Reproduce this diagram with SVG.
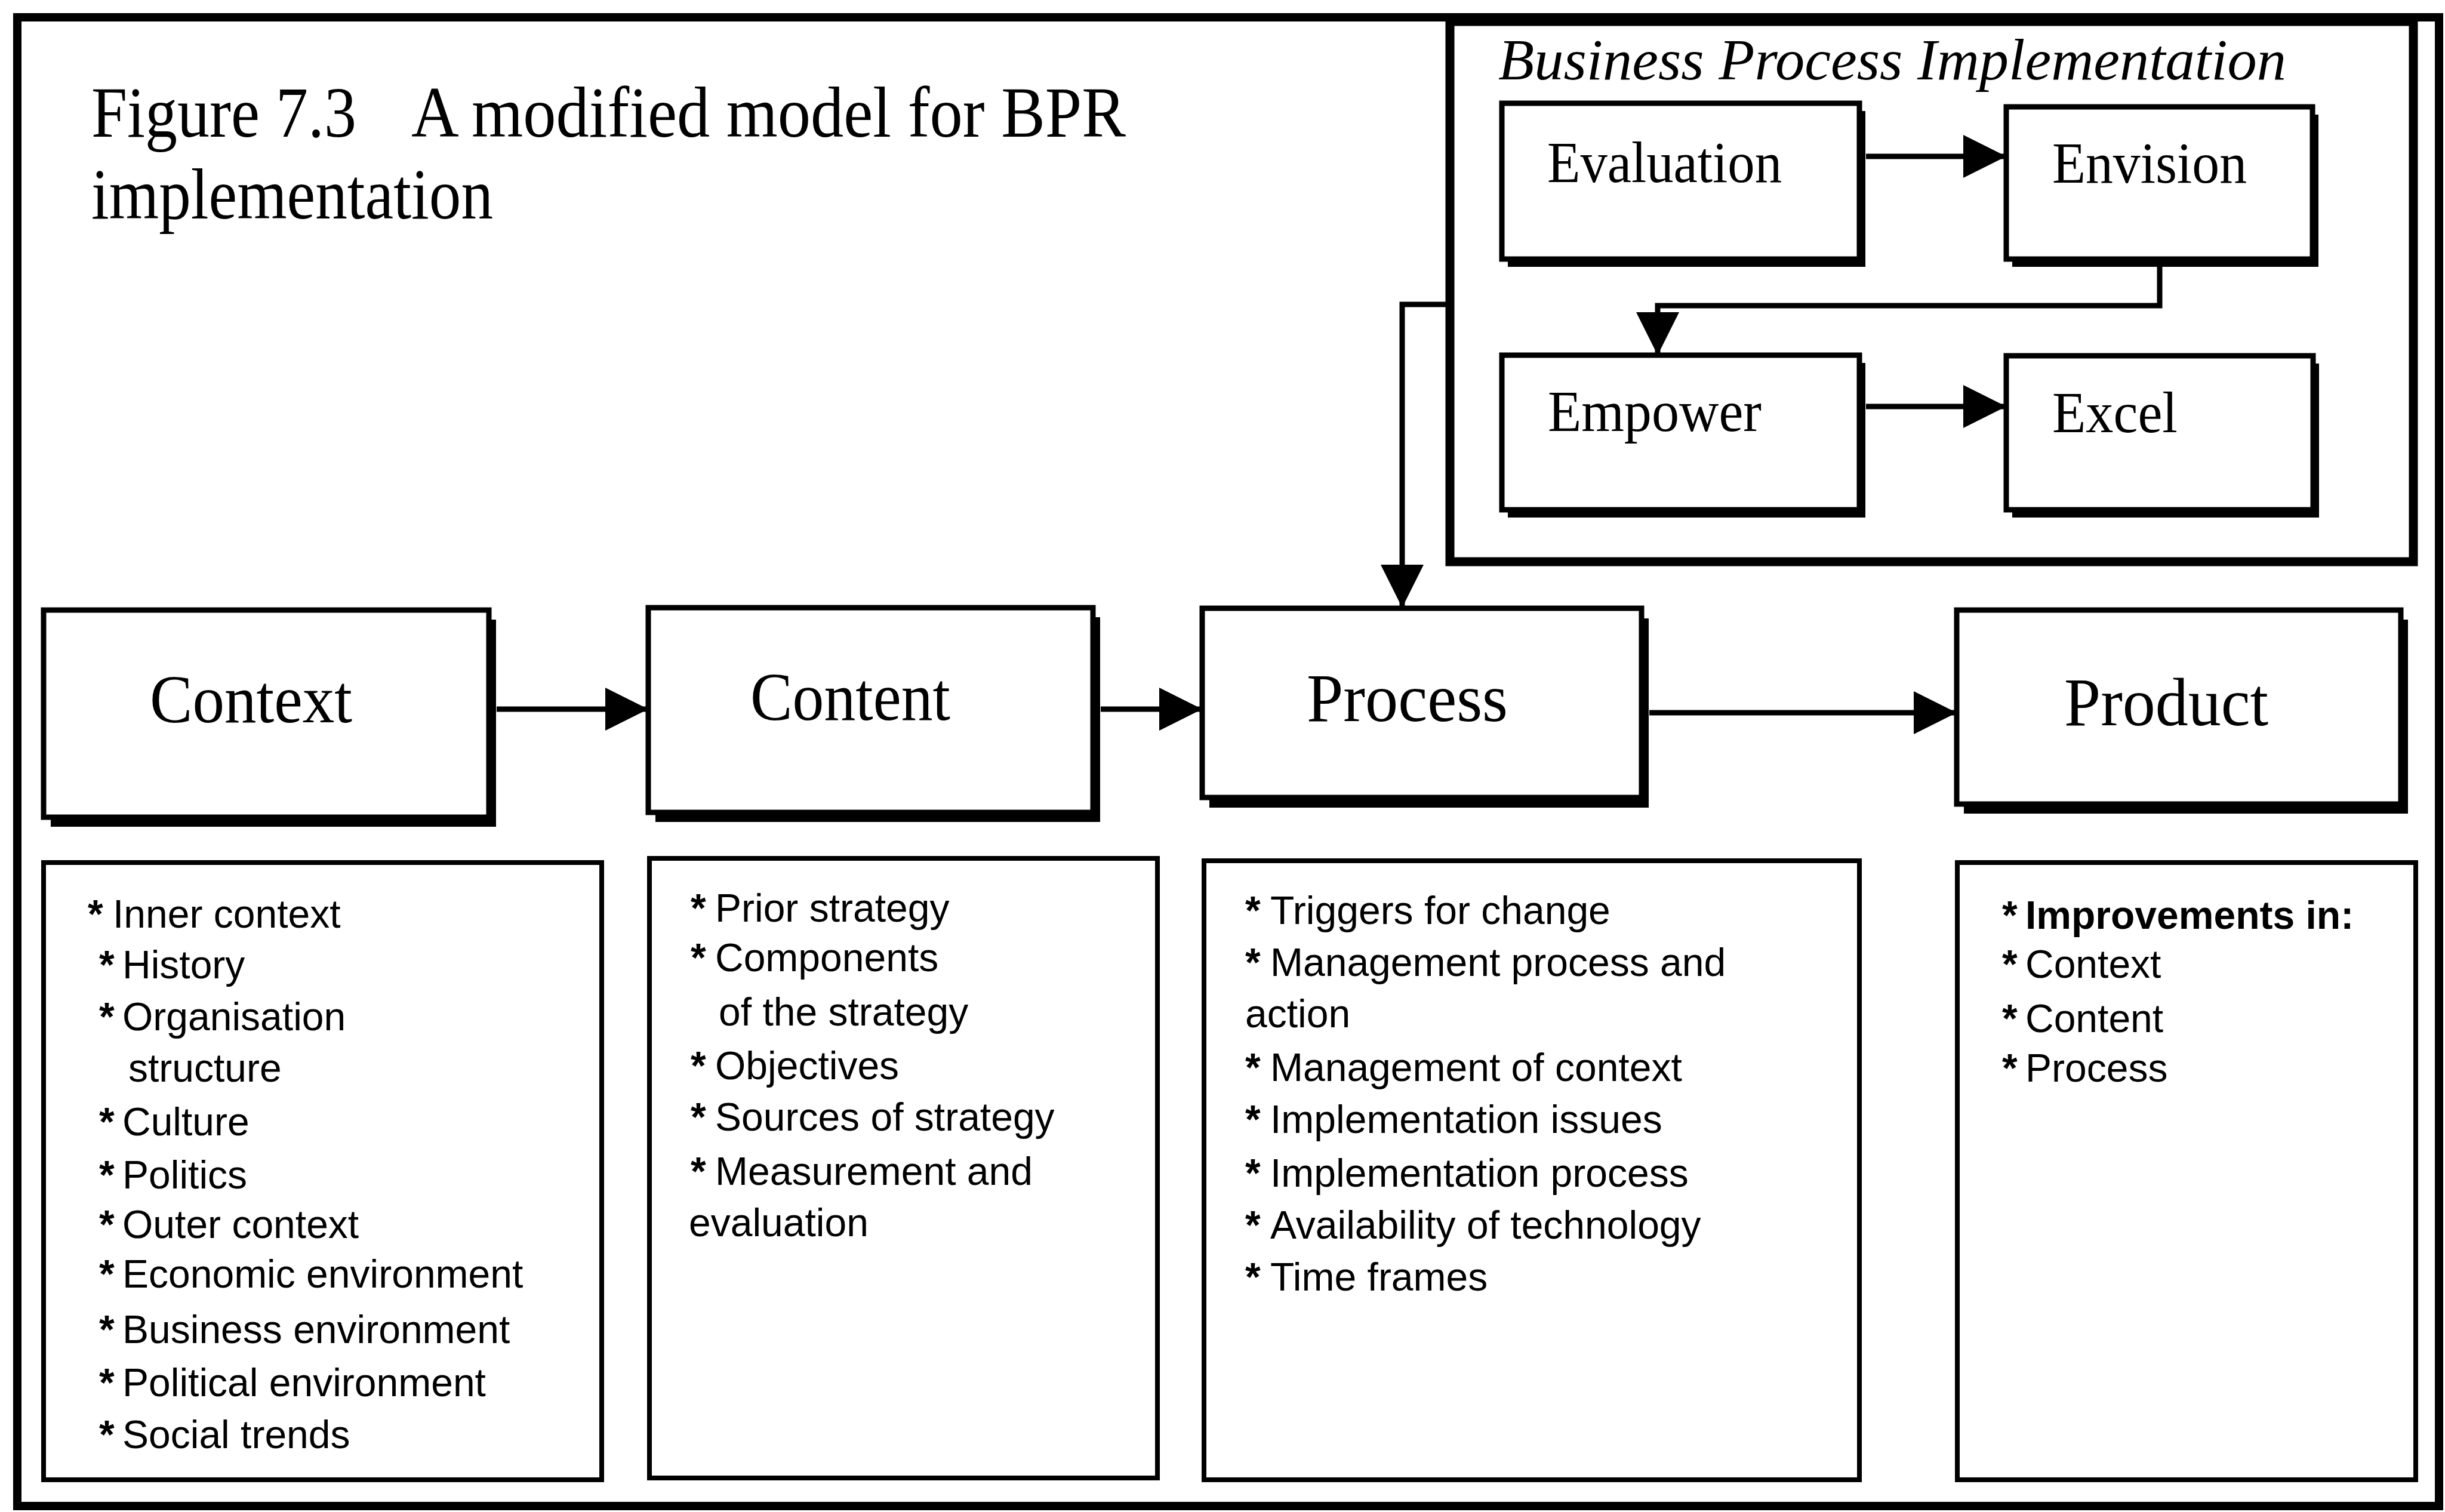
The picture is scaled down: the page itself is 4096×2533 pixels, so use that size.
<svg xmlns="http://www.w3.org/2000/svg" width="4096" height="2533" viewBox="0 0 4096 2533">
  <style>
    .frame { fill: none; stroke: #000; stroke-width: 14; }
    .bpi { fill: none; stroke: #000; stroke-width: 15; }
    .box { fill: #fff; stroke: #000; stroke-width: 9; }
    .listbox { fill: #fff; stroke: #000; stroke-width: 8; }
    .shadow { fill: #000; }
    .conn { fill: none; stroke: #000; stroke-width: 9; marker-end: url(#arrow); }
    .title { font-family: "Liberation Serif", "Times New Roman", serif; font-size: 120px; fill: #000; }
    .bpititle { font-family: "Liberation Serif", "Times New Roman", serif; font-size: 98px; font-style: italic; fill: #000; }
    .lbl { font-family: "Liberation Serif", "Times New Roman", serif; font-size: 114px; fill: #000; }
    .sub { font-family: "Liberation Serif", "Times New Roman", serif; font-size: 98px; fill: #000; }
    .li { font-family: "Liberation Sans", Arial, sans-serif; font-size: 66px; fill: #000; }
    .bl { font-weight: bold; }
  </style>
  <defs>
    <marker id="arrow" markerUnits="userSpaceOnUse" markerWidth="72" markerHeight="72" refX="72" refY="36" orient="auto">
      <path d="M0,0 L72,36 L0,72 Z" fill="#000"/>
    </marker>
  </defs>

  <rect width="4096" height="2533" fill="#fff"/>

  <!-- outer frame -->
  <rect class="frame" x="29" y="29" width="4057" height="2494"/>

  <!-- figure caption -->
  <g id="caption">
    <text class="title" x="153" y="229" textLength="444" lengthAdjust="spacingAndGlyphs">Figure 7.3</text>
    <text class="title" x="689" y="229" textLength="1197" lengthAdjust="spacingAndGlyphs">A modified model for BPR</text>
    <text class="title" x="153" y="366" textLength="673" lengthAdjust="spacingAndGlyphs">implementation</text>
  </g>

  <!-- Business Process Implementation panel -->
  <g id="bpi-panel">
    <rect class="bpi" x="2429" y="36" width="1614" height="905"/>
    <text class="bpititle" x="2510" y="133" textLength="1320" lengthAdjust="spacingAndGlyphs">Business Process Implementation</text>
  </g>

  <g id="evaluation">
    <rect class="shadow" x="2526" y="186" width="599" height="261"/>
    <rect class="box" x="2516" y="173" width="599" height="261"/>
    <text class="sub" x="2592" y="305" textLength="393" lengthAdjust="spacingAndGlyphs">Evaluation</text>
  </g>
  <g id="envision">
    <rect class="shadow" x="3371" y="192" width="513" height="255"/>
    <rect class="box" x="3361" y="179" width="513" height="255"/>
    <text class="sub" x="3438" y="306" textLength="326" lengthAdjust="spacingAndGlyphs">Envision</text>
  </g>
  <g id="empower">
    <rect class="shadow" x="2526" y="608" width="599" height="259"/>
    <rect class="box" x="2516" y="595" width="599" height="259"/>
    <text class="sub" x="2593" y="722" textLength="358" lengthAdjust="spacingAndGlyphs">Empower</text>
  </g>
  <g id="excel">
    <rect class="shadow" x="3371" y="609" width="514" height="258"/>
    <rect class="box" x="3361" y="596" width="514" height="258"/>
    <text class="sub" x="3438" y="724" textLength="210" lengthAdjust="spacingAndGlyphs">Excel</text>
  </g>

  <!-- main stages -->
  <g id="context">
    <rect class="shadow" x="85" y="1038" width="746" height="347"/>
    <rect class="box" x="73" y="1022" width="746" height="347"/>
    <text class="lbl" x="251" y="1210" textLength="339" lengthAdjust="spacingAndGlyphs">Context</text>
  </g>
  <g id="content">
    <rect class="shadow" x="1098" y="1034" width="745" height="343"/>
    <rect class="box" x="1086" y="1018" width="745" height="343"/>
    <text class="lbl" x="1257" y="1206" textLength="335" lengthAdjust="spacingAndGlyphs">Content</text>
  </g>
  <g id="process">
    <rect class="shadow" x="2026" y="1036" width="736" height="317"/>
    <rect class="box" x="2014" y="1019" width="736" height="317"/>
    <text class="lbl" x="2189" y="1208" textLength="337" lengthAdjust="spacingAndGlyphs">Process</text>
  </g>
  <g id="product">
    <rect class="shadow" x="3290" y="1038" width="744" height="325"/>
    <rect class="box" x="3278" y="1022" width="744" height="325"/>
    <text class="lbl" x="3458" y="1215" textLength="342" lengthAdjust="spacingAndGlyphs">Product</text>
  </g>

  <!-- detail lists -->
  <g id="context-list">
    <rect class="listbox" x="73" y="1445" width="935" height="1034"/>
    <text class="li" y="1554"><tspan class="bl" x="147">*</tspan><tspan x="189">Inner context</tspan></text>
    <text class="li" y="1639"><tspan class="bl" x="166">*</tspan><tspan x="205">History</tspan></text>
    <text class="li" y="1726"><tspan class="bl" x="166">*</tspan><tspan x="205">Organisation</tspan></text>
    <text class="li" x="215" y="1812">structure</text>
    <text class="li" y="1902"><tspan class="bl" x="166">*</tspan><tspan x="205">Culture</tspan></text>
    <text class="li" y="1991"><tspan class="bl" x="166">*</tspan><tspan x="205">Politics</tspan></text>
    <text class="li" y="2074"><tspan class="bl" x="166">*</tspan><tspan x="205">Outer context</tspan></text>
    <text class="li" y="2157"><tspan class="bl" x="166">*</tspan><tspan x="205">Economic environment</tspan></text>
    <text class="li" y="2250"><tspan class="bl" x="166">*</tspan><tspan x="205">Business environment</tspan></text>
    <text class="li" y="2339"><tspan class="bl" x="166">*</tspan><tspan x="205">Political environment</tspan></text>
    <text class="li" y="2426"><tspan class="bl" x="166">*</tspan><tspan x="205">Social trends</tspan></text>
  </g>
  <g id="content-list">
    <rect class="listbox" x="1088" y="1438" width="851" height="1038"/>
    <text class="li" y="1544"><tspan class="bl" x="1157">*</tspan><tspan x="1198">Prior strategy</tspan></text>
    <text class="li" y="1627"><tspan class="bl" x="1157">*</tspan><tspan x="1198">Components</tspan></text>
    <text class="li" x="1204" y="1718">of the strategy</text>
    <text class="li" y="1808"><tspan class="bl" x="1157">*</tspan><tspan x="1198">Objectives</tspan></text>
    <text class="li" y="1894"><tspan class="bl" x="1157">*</tspan><tspan x="1198">Sources of strategy</tspan></text>
    <text class="li" y="1985"><tspan class="bl" x="1157">*</tspan><tspan x="1198">Measurement and</tspan></text>
    <text class="li" x="1154" y="2071">evaluation</text>
  </g>
  <g id="process-list">
    <rect class="listbox" x="2017" y="1442" width="1098" height="1037"/>
    <text class="li" y="1548"><tspan class="bl" x="2086">*</tspan><tspan x="2128">Triggers for change</tspan></text>
    <text class="li" y="1635"><tspan class="bl" x="2086">*</tspan><tspan x="2128">Management process and</tspan></text>
    <text class="li" x="2086" y="1721">action</text>
    <text class="li" y="1811"><tspan class="bl" x="2086">*</tspan><tspan x="2128">Management of context</tspan></text>
    <text class="li" y="1898"><tspan class="bl" x="2086">*</tspan><tspan x="2128">Implementation issues</tspan></text>
    <text class="li" y="1988"><tspan class="bl" x="2086">*</tspan><tspan x="2128">Implementation process</tspan></text>
    <text class="li" y="2075"><tspan class="bl" x="2086">*</tspan><tspan x="2128">Availability of technology</tspan></text>
    <text class="li" y="2162"><tspan class="bl" x="2086">*</tspan><tspan x="2128">Time frames</tspan></text>
  </g>
  <g id="product-list">
    <rect class="listbox" x="3279" y="1445" width="768" height="1034"/>
    <text class="li" y="1556"><tspan class="bl" x="3354">*</tspan><tspan class="bl" x="3393">Improvements in:</tspan></text>
    <text class="li" y="1638"><tspan class="bl" x="3354">*</tspan><tspan x="3393">Context</tspan></text>
    <text class="li" y="1729"><tspan class="bl" x="3354">*</tspan><tspan x="3393">Content</tspan></text>
    <text class="li" y="1812"><tspan class="bl" x="3354">*</tspan><tspan x="3393">Process</tspan></text>
  </g>

  <!-- connectors -->
  <g id="connectors">
    <path class="conn" d="M3126,262 H3361"/>
    <path class="conn" d="M3618,447 V512 H2777 V595"/>
    <path class="conn" d="M3126,681 H3361"/>
    <path class="conn" d="M2429,510 H2349 V1018"/>
    <path class="conn" d="M832,1188 H1086"/>
    <path class="conn" d="M1844,1188 H2014"/>
    <path class="conn" d="M2763,1194 H3278"/>
  </g>
</svg>
